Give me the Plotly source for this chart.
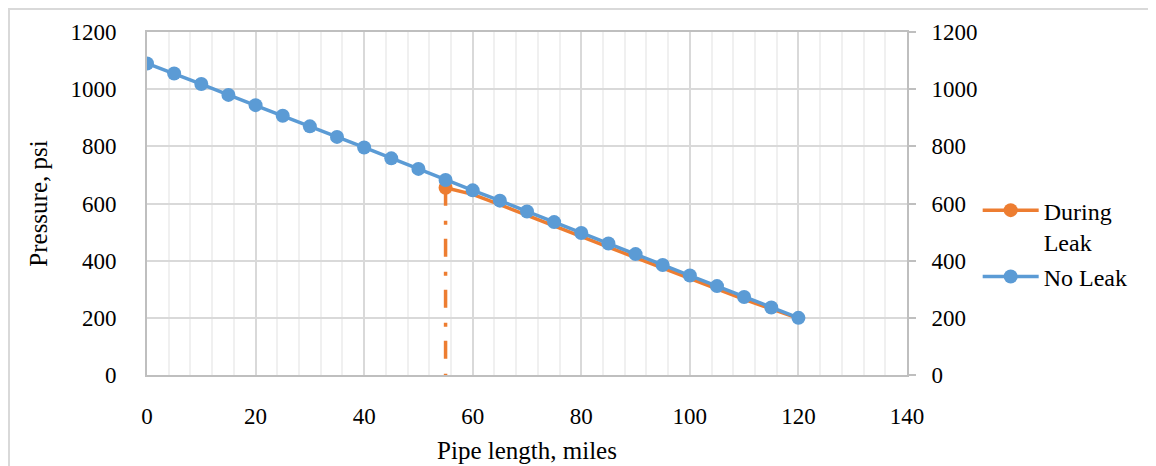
import plotly.graph_objects as go

# Data
no_leak_x = [0, 5, 10, 15, 20, 25, 30, 35, 40, 45, 50, 55, 60, 65, 70, 75, 80, 85, 90, 95, 100, 105, 110, 115, 120]
no_leak_y = [1090, 1055, 1018, 980, 944, 907, 870, 833, 796, 758, 721, 682, 646, 610, 572, 535, 497, 460, 423, 385, 348, 311, 273, 236, 200]

leak_x = [55, 60, 65, 70, 75, 80, 85, 90, 95, 100, 105, 110, 115, 120]
leak_y = [655, 632, 596, 558, 521, 484, 447, 411, 374, 338, 302, 265, 231, 198]

drop_x = [55, 55]
drop_y = [655, 0]

x_ticks = [0, 20, 40, 60, 80, 100, 120, 140]
y_ticks = [0, 200, 400, 600, 800, 1000, 1200]

ORANGE = "#ED7D31"
BLUE = "#5B9BD5"
FONT = "Liberation Serif"


def f(size):
    return dict(family=FONT, size=size, color="black")


fig = go.Figure()

# vertical dash-dot drop line at the leak location
fig.add_trace(go.Scatter(
    x=drop_x, y=drop_y, mode="lines",
    line=dict(color=ORANGE, width=3.5, dash="18px,15px,4px,14px"),
    showlegend=False, hoverinfo="skip"))

# During-leak line
fig.add_trace(go.Scatter(
    x=leak_x, y=leak_y, mode="lines",
    line=dict(color=ORANGE, width=3.5),
    showlegend=False, legendgroup="a"))

# During-leak marker at leak point (also legend entry)
fig.add_trace(go.Scatter(
    x=leak_x[:1], y=leak_y[:1], mode="lines+markers", name="During<br>Leak",
    line=dict(color=ORANGE, width=3.5),
    marker=dict(color=ORANGE, size=14), legendgroup="a"))

fig.add_trace(go.Scatter(
    x=no_leak_x, y=no_leak_y, mode="lines+markers", name="No Leak",
    line=dict(color=BLUE, width=3.5),
    marker=dict(color=BLUE, size=14), legendgroup="b"))

# invisible trace to activate the right axis
fig.add_trace(go.Scatter(x=[None], y=[None], yaxis="y2", showlegend=False, hoverinfo="skip"))

L, T = 139, 24
W_PLOT, H_PLOT = 760, 343

fig.update_layout(
    template="none",
    width=1156, height=466,
    margin=dict(l=L, r=1156 - L - W_PLOT, t=T, b=466 - T - H_PLOT),
    paper_bgcolor="white", plot_bgcolor="white",
    font=f(21),
    xaxis=dict(
        range=[0, 140], tickvals=x_ticks, showgrid=True,
        gridcolor="#D9D9D9", gridwidth=1.5,
        minor=dict(dtick=4, showgrid=True, gridcolor="#F0F0F0", gridwidth=1.5),
        showline=True, linecolor="#BFBFBF", linewidth=2, mirror=True,
        ticks="", zeroline=False, tickfont=f(23),
        title=dict(text="Pipe length, miles", standoff=14),
        ticklabelstandoff=19,
    ),
    yaxis=dict(
        range=[0, 1200], tickvals=y_ticks, showgrid=True,
        gridcolor="#D9D9D9", gridwidth=1.5,
        showline=True, linecolor="#BFBFBF", linewidth=2,
        ticks="", zeroline=False, tickfont=f(23),
        title=dict(text="Pressure, psi", standoff=16),
        ticklabelstandoff=24,
    ),
    yaxis2=dict(
        range=[0, 1200], tickvals=y_ticks, overlaying="y", side="right",
        showgrid=False, showline=True, linecolor="#BFBFBF", linewidth=2,
        ticks="outside", ticklen=7, tickcolor="#BFBFBF", tickwidth=2,
        zeroline=False, ticklabelstandoff=11, tickfont=f(23),
    ),
    legend=dict(
        x=1.093, y=0.545, xanchor="left", yanchor="top",
        bgcolor="rgba(0,0,0,0)", valign="top", font=f(24),
        traceorder="grouped", itemwidth=56, tracegroupgap=1,
    ),
    shapes=[dict(
        type="rect", xref="paper", yref="paper",
        x0=-(L - 1) / W_PLOT, x1=1.4, y0=-0.4, y1=(H_PLOT + T - 1) / H_PLOT,
        line=dict(color="#D9D9D9", width=2), fillcolor="rgba(0,0,0,0)", layer="below",
    )],
)

fig.write_html("out.html")
